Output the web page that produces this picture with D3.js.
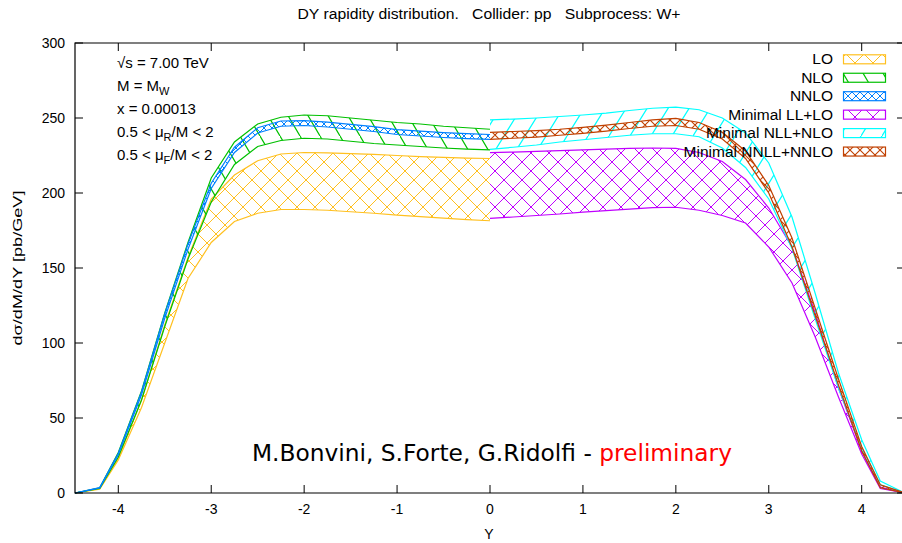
<!DOCTYPE html>
<html>
<head>
<meta charset="utf-8">
<script src="https://cdn.jsdelivr.net/npm/d3@7"></script>
<style>
  body { margin: 0; background: #fff; }
  text { font-family: "Liberation Sans", Arial, sans-serif; fill: #000; }
</style>
</head>
<body>
<div id="chart"></div>
<script>
// rapidity grids (fixed order on the left, resummed on the right)
const yLeft = [-4.466, -4.2, -4, -3.75, -3.5, -3.25, -3, -2.75, -2.5, -2.25, -2, -1.75, -1.5, -1.25, -1, -0.75, -0.5, -0.25, 0];
const yRight = [0, 0.25, 0.5, 0.75, 1, 1.25, 1.5, 1.75, 2, 2.25, 2.5, 2.75, 3, 3.25, 3.5, 3.75, 4, 4.2, 4.466];

// band edges, dsigma/dM/dY [pb/GeV]
const loLow = [0, 2.5, 22, 57, 100, 143, 167, 181, 186.5, 189, 189, 188.5, 187.5, 186.5, 185.3, 184.3, 183.2, 182.3, 181.5];
const loHigh = [0, 3, 23, 62, 112, 157, 196, 212, 221.5, 226, 227, 226.8, 226.3, 225.8, 225, 224.3, 223.7, 223.3, 223];
const nloLow = [0, 3, 24, 62, 111, 156, 194, 219, 231, 235, 236.5, 236, 234.5, 233, 232, 231, 230, 229.3, 228.7];
const nloHigh = [0, 3.5, 27, 68, 120, 167, 210, 234, 246, 250.5, 252, 251.5, 250, 248.5, 247, 246, 244.5, 243.5, 242.5];
const nnloLow = [0, 3.3, 25.5, 65.5, 116.5, 162.5, 203, 227, 240, 244.5, 245, 244, 242.5, 241, 239, 238, 237, 236.3, 235.8];
const nnloHigh = [0, 3.6, 26.5, 67.5, 119.5, 166, 206.5, 230.5, 243.5, 248, 248.3, 247.3, 245.8, 244.2, 242.3, 241.3, 240.3, 239.6, 239];

const llLow = [183.1, 184, 185, 186, 187.2, 188.3, 189.3, 190.2, 190.5, 188.5, 185, 180, 164, 140, 104, 64, 26, 3, 0];
const llHigh = [226.9, 227.3, 227.8, 228.3, 228.8, 229.3, 229.7, 230, 229.8, 227, 221, 209, 190, 164, 120, 70, 28, 4, 0];
const nllLow = [229.1, 230.5, 232, 234, 235.5, 237, 238.5, 239.5, 239.5, 237.5, 230, 217, 196, 163, 116, 70, 30, 5.5, 0];
const nllHigh = [248.7, 249.3, 250, 251, 252, 253.3, 255, 256.5, 257.3, 255.5, 250, 240, 220, 184, 133, 80, 35.5, 8, 0];
const nnllLow = [235.8, 236.5, 237.3, 238.5, 239.8, 241.3, 243, 244.5, 245, 242.5, 236, 223, 200, 164, 118, 72, 28, 3.5, 0];
const nnllHigh = [240.4, 241, 241.6, 242.5, 243.8, 245.3, 247, 248.8, 249.7, 247, 240.5, 228, 205, 170, 123, 76, 31, 5.5, 0];

const seriesNames = ["LO", "NLO", "NNLO", "Minimal LL+LO", "Minimal NLL+NLO", "Minimal NNLL+NNLO"];
const seriesColors = ["#ffc020", "#00c000", "#0080ff", "#c000ff", "#00ffff", "#c04000"];
const xTicks = [-4, -3, -2, -1, 0, 1, 2, 3, 4];
const yTicks = [0, 50, 100, 150, 200, 250, 300];

const W = 902, H = 543;
const svg = d3.select("#chart").append("svg").attr("width", W).attr("height", H);

const xScale = d3.scaleLinear().domain([-4.466, 4.466]).range([75, 905]);
const yScale = d3.scaleLinear().domain([0, 300]).range([493, 43]);

// hatch patterns
const defs = svg.append("defs");
function cross(id, color, p, sw) {
  const pat = defs.append("pattern").attr("id", id).attr("patternUnits", "userSpaceOnUse")
    .attr("width", p).attr("height", p);
  pat.append("path").attr("d", `M0,0L${p},${p}M0,${p}L${p},0M${-p/2},${p/2}L${p/2},${-p/2}M${p/2},${p*1.5}L${p*1.5},${p/2}M${-p/2},${p/2}L${p/2},${p*1.5}M${p/2},${-p/2}L${p*1.5},${p/2}`)
    .attr("stroke", color).attr("stroke-width", sw).attr("fill", "none");
}
function diag(id, color, w, h, dir, sw) {
  const pat = defs.append("pattern").attr("id", id).attr("patternUnits", "userSpaceOnUse")
    .attr("width", w).attr("height", h);
  const d = dir > 0
    ? `M0,${h}L${w},0M${-w},${h}L0,0M${w},${2*h}L${2*w},${h}`
    : `M0,0L${w},${h}M${-w},0L0,${h}M${w},${-h}L${2*w},0`;
  pat.append("path").attr("d", d).attr("stroke", color).attr("stroke-width", sw).attr("fill", "none");
}
cross("p0", seriesColors[0], 18, 1);
diag("p1", seriesColors[1], 20, 34, -1, 1.2);
cross("p2", seriesColors[2], 8, 1);
cross("p3", seriesColors[3], 18, 1);
diag("p4", seriesColors[4], 21, 34, 1, 1.2);
cross("p5", seriesColors[5], 10, 1.1);

const bands = [
  { ys: yLeft, lo: loLow, hi: loHigh },
  { ys: yLeft, lo: nloLow, hi: nloHigh },
  { ys: yLeft, lo: nnloLow, hi: nnloHigh },
  { ys: yRight, lo: llLow, hi: llHigh },
  { ys: yRight, lo: nllLow, hi: nllHigh },
  { ys: yRight, lo: nnllLow, hi: nnllHigh }
];

const area = d3.area().x(d => xScale(d[0])).y0(d => yScale(d[1])).y1(d => yScale(d[2]));
const line = d3.line().x(d => xScale(d[0])).y(d => yScale(d[1]));

const plot = svg.append("g");
bands.forEach((b, i) => {
  const pts = b.ys.map((y, k) => [y, b.lo[k], b.hi[k]]);
  plot.append("path").attr("d", area(pts)).attr("fill", `url(#p${i})`).attr("stroke", "none");
  plot.append("path").attr("d", line(pts.map(p => [p[0], p[1]])))
    .attr("fill", "none").attr("stroke", seriesColors[i]).attr("stroke-width", 1.2);
  plot.append("path").attr("d", line(pts.map(p => [p[0], p[2]])))
    .attr("fill", "none").attr("stroke", seriesColors[i]).attr("stroke-width", 1.2);
});

// border and ticks (gnuplot style, ticks inward, mirrored)
const x0 = xScale.range()[0], x1 = xScale.range()[1];
const yb = yScale(0), yt = yScale(300);
svg.append("path").attr("d", `M${x0},${yt}L${x1},${yt}L${x1},${yb}L${x0},${yb}Z`)
  .attr("fill", "none").attr("stroke", "#000").attr("stroke-width", 1.2);
const tl = 8;
xTicks.forEach(t => {
  const x = xScale(t);
  svg.append("line").attr("x1", x).attr("x2", x).attr("y1", yb).attr("y2", yb - tl).attr("stroke", "#000");
  svg.append("line").attr("x1", x).attr("x2", x).attr("y1", yt).attr("y2", yt + tl).attr("stroke", "#000");
  svg.append("text").attr("x", x).attr("y", yb + 21).attr("text-anchor", "middle")
    .attr("font-size", 14).text(t);
});
yTicks.forEach(t => {
  const y = yScale(t);
  svg.append("line").attr("x1", x0).attr("x2", x0 + tl).attr("y1", y).attr("y2", y).attr("stroke", "#000");
  svg.append("line").attr("x1", x1).attr("x2", x1 - tl).attr("y1", y).attr("y2", y).attr("stroke", "#000");
  svg.append("text").attr("x", x0 - 10).attr("y", y + 5).attr("text-anchor", "end")
    .attr("font-size", 14).text(t);
});

// titles
svg.append("text").attr("x", 489).attr("y", 19).attr("text-anchor", "middle").attr("font-size", 14)
  .attr("xml:space", "preserve").attr("textLength", 383).attr("lengthAdjust", "spacingAndGlyphs")
  .text("DY rapidity distribution.   Collider: pp   Subprocess: W+");
svg.append("text").attr("x", 489).attr("y", 539).attr("text-anchor", "middle").attr("font-size", 14).text("Y");
svg.append("text").attr("transform", "translate(22,268) rotate(-90)").attr("text-anchor", "middle")
  .attr("font-size", 13).attr("textLength", 155).attr("lengthAdjust", "spacingAndGlyphs")
  .text("dσ/dM/dY [pb/GeV]");

// parameter labels
const ann = svg.append("g").attr("font-size", 15);
ann.append("text").attr("x", 117).attr("y", 68).text("√s = 7.00 TeV");
const t2 = ann.append("text").attr("x", 117).attr("y", 91);
t2.append("tspan").text("M = M");
t2.append("tspan").attr("dy", 4).attr("font-size", 11).text("W");
ann.append("text").attr("x", 117).attr("y", 114).text("x = 0.00013");
["R", "F"].forEach((s, i) => {
  const t = ann.append("text").attr("x", 117).attr("y", 137 + i * 23);
  t.append("tspan").text("0.5 < μ");
  t.append("tspan").attr("dy", 4).attr("font-size", 11).text(s);
  t.append("tspan").attr("dy", -4).text("/M < 2");
});

// credit
const cr = svg.append("text").attr("x", 252).attr("y", 461).attr("font-size", 23.3)
  .style("font-family", "'DejaVu Sans', sans-serif").attr("xml:space", "preserve");
cr.append("tspan").text("M.Bonvini, S.Forte, G.Ridolfi - ");
cr.append("tspan").style("fill", "#ff0000").text("preliminary");

// legend
const leg = svg.append("g");
seriesNames.forEach((n, i) => {
  const cy = 59.3 + i * 18.45;
  leg.append("text").attr("x", 833).attr("y", cy + 5).attr("text-anchor", "end").attr("font-size", 15.5).text(n);
  leg.append("rect").attr("x", 843.5).attr("y", cy - 4.5).attr("width", 42).attr("height", 9)
    .attr("fill", `url(#p${i})`).attr("stroke", seriesColors[i]).attr("stroke-width", 1.2);
});
</script>
</body>
</html>
